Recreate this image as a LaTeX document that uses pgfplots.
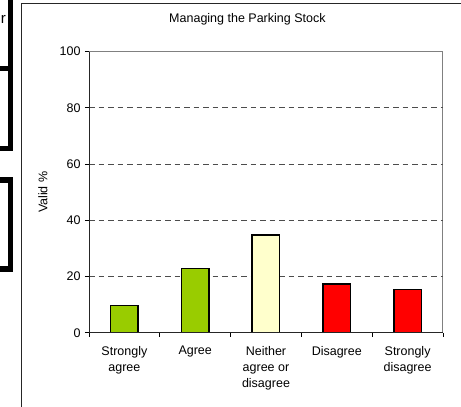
\documentclass[border=0pt]{standalone}
\usepackage{fontspec}
\setmainfont{Liberation Sans}
\usepackage{pgfplots}
\pgfplotsset{compat=1.18}
\definecolor{bargreen}{HTML}{99CC00}
\definecolor{baryellow}{HTML}{FFFFCC}
\definecolor{barred}{HTML}{FF0000}
\begin{document}
\begin{tikzpicture}
\useasboundingbox (0pt,0pt) rectangle (461pt,407pt);
\clip (0pt,0pt) rectangle (461pt,407pt);
\fill[white] (0pt,0pt) rectangle (461pt,407pt);
% fragments of neighbouring boxes at the left edge
\draw[line width=5.5pt] (-20pt,430pt) rectangle (10.5pt,338.5pt);
\draw[line width=5.5pt] (-20pt,338.5pt) rectangle (10.5pt,258.5pt);
\draw[line width=5.5pt] (-20pt,227pt) rectangle (10.5pt,138pt);
\node[anchor=base east, font=\fontsize{15}{18}\selectfont, inner sep=0pt] at (6pt,383pt) {r};
% chart frame
\draw[line width=1pt, black!85] (21pt,-10pt) -- (21pt,403pt) -- (480pt,403pt);
\begin{axis}[
  at={(89pt,74.3pt)}, anchor=south west,
  width=354pt, height=281pt, scale only axis,
  xmin=0.5, xmax=5.5, ymin=0, ymax=100,
  xtick={1,2,3,4,5},
  xticklabels={{Strongly\\agree},Agree,{Neither\\agree or\\disagree},Disagree,{Strongly\\disagree}},
  minor xtick={0.5,1.5,2.5,3.5,4.5,5.5},
  ytick={0,20,40,60,80,100},
  tick pos=left, tick align=outside,
  major tick length=4pt, minor tick length=4pt,
  major x tick style={draw=none},
  tick style={black, line width=0.8pt},
  axis line style={draw=gray, line width=1pt},
  extra y ticks={20,40,60,80}, extra y tick labels={},
  extra y tick style={grid=major, major tick length=0pt},
  grid style={dash pattern=on 5.5pt off 4pt, black!70, line width=0.9pt},
  /pgf/number format/assume math mode=true,
  tick label style={font=\fontsize{12.5}{16}\selectfont},
  xticklabel style={align=center, yshift=-6pt},
  yticklabel style={xshift=-1pt},
  ylabel={Valid \%},
  ylabel style={font=\fontsize{12.5}{16}\selectfont, at={(axis description cs:-0.12994,0.5)}, anchor=center},
  title={Managing the Parking Stock},
  title style={font=\fontsize{12.5}{16}\selectfont, at={(axis description cs:0.4475,1.0808)}, anchor=base},
]
\addplot[ybar, bar shift=0pt, bar width=27.5pt, fill=bargreen, draw=black, line width=1.5pt] coordinates {(1,9.6) (2,22.9)};
\addplot[ybar, bar shift=0pt, bar width=27.5pt, fill=baryellow, draw=black, line width=1.5pt] coordinates {(3,34.7)};
\addplot[ybar, bar shift=0pt, bar width=27.5pt, fill=barred, draw=black, line width=1.5pt] coordinates {(4,17.3) (5,15.4)};
\draw[black!85, line width=1pt] (rel axis cs:0,1) -- (rel axis cs:0,0) -- (rel axis cs:1,0);
\end{axis}
\end{tikzpicture}
\end{document}
